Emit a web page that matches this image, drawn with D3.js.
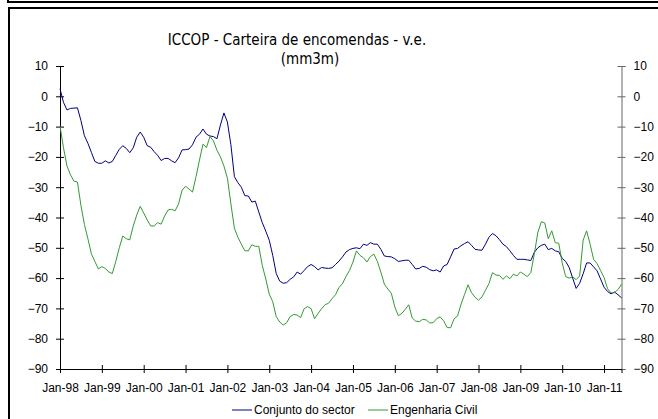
<!DOCTYPE html>
<html>
<head>
<meta charset="utf-8">
<script src="https://cdn.jsdelivr.net/npm/d3@7"></script>
<style>
  html, body { margin: 0; padding: 0; background: #fff; }
  #chart { width: 658px; height: 419px; }
</style>
</head>
<body>
<div id="chart"></div>
<script>
// monthly values, Jan-98 .. Jun-11
const conjunto = [
    2.5, -2, -4.5, -4, -3.9, -3.8, -8, -13, -15.5, -18.5,
    -21.5, -22.1, -22.1, -21.3, -22, -21.5, -19.5, -17.5, -16.3, -17.2,
    -18.6, -17, -13.5, -11.8, -13.5, -16.3, -16.8, -18.3, -19.5, -21.2,
    -20.5, -20.5, -21.3, -21.9, -20.3, -17.7, -17.6, -17.4, -16, -13.5,
    -12.5, -10.8, -12.5, -13.1, -13.3, -14, -9.5, -5.5, -8.5, -16,
    -26.5, -28.5, -30, -32.8, -32.9, -34.9, -34.6, -38.2, -41.7, -44.5,
    -47.5, -52.5, -58.5, -61, -61.7, -61.5, -60.4, -59.6, -58, -58.7,
    -57.5, -56.2, -55.5, -56.2, -57.3, -56.5, -56.7, -56.8, -56.6, -55.5,
    -54.4, -53, -51.4, -50.6, -50.2, -50, -50.3, -48.8, -49.2, -48.3,
    -48.8, -48.8, -50.5, -52.7, -52.9, -53, -53.6, -54.5, -54.3, -54.1,
    -54.1, -55.5, -57, -56.8, -56.1, -56.4, -57.2, -57.6, -57.3, -58,
    -56, -55.5, -53, -50.4, -50.2, -49.3, -48.6, -48, -49.2, -50.5,
    -50.7, -50.8, -48.8, -46.5, -45.3, -46, -47.3, -48.8, -49.6, -51,
    -52.5, -53.8, -53.8, -53.8, -54, -54.2, -51.5, -50, -49.2, -48.8,
    -50.6, -50.2, -51, -51.3, -53.5, -54.5, -56.5, -60, -63.4, -61.7,
    -58.6, -55, -55, -56.3, -57.6, -60.3, -63, -64.4, -65.2, -64.6,
    -65.5, -66.5
];

const engenharia = [
    -9.8, -17, -23, -25.9, -28, -28.3, -36, -42.3, -47, -52,
    -54.5, -57, -56.2, -56.8, -58, -58.5, -54.5, -50, -46.1, -47,
    -47.4, -42.8, -39.2, -36.3, -38.5, -40.8, -42.8, -42.8, -41.7, -42.2,
    -39.5, -37.5, -37.3, -37.8, -35.5, -31, -29.7, -30.6, -31.6, -26.5,
    -21, -15.8, -16.9, -13.3, -14.7, -17.8, -20, -23, -27, -35.5,
    -43.5, -46.5, -48.8, -51, -51, -49, -49.5, -49.5, -55.8, -60.3,
    -65.3, -67.8, -72.7, -74.5, -75.5, -74.7, -72.7, -72, -72.2, -73,
    -70.1, -69.4, -70.1, -73.4, -71.7, -70.1, -68.8, -68.3, -66.8, -65.5,
    -63.1, -61.8, -59.5, -57.5, -54.7, -51, -52.5, -53.3, -54.7, -52.9,
    -52.1, -54.5, -58, -62, -63.6, -65, -69.5, -72.4, -71.7, -70.3,
    -68.8, -73.2, -74.2, -74.4, -73.6, -73.8, -74.8, -74.7, -73.4, -72.8,
    -74.1, -76.3, -76.4, -73.4, -72.5, -68.6, -65.4, -62.2, -64.8, -66.3,
    -67.3, -66.2, -64, -61.8, -58.2, -59, -59.1, -60.4, -59.3, -60.2,
    -58.7, -59.3, -58, -58.7, -59.5, -58.2, -52.1, -45, -41.4, -41.8,
    -47, -44.4, -48.3, -48.5, -55, -59.5, -60, -59.6, -60.5, -59.3,
    -47.5, -44.4, -48.8, -53.8, -55.2, -57.5, -59.8, -63.5, -64.9, -64.8,
    -63.8, -62
];

const xTickLabels = ["Jan-98", "Jan-99", "Jan-00", "Jan-01", "Jan-02", "Jan-03", "Jan-04",
    "Jan-05", "Jan-06", "Jan-07", "Jan-08", "Jan-09", "Jan-10", "Jan-11"];
const yTicks = [10, 0, -10, -20, -30, -40, -50, -60, -70, -80, -90];
const seriesNames = ["Conjunto do sector", "Engenharia Civil"];
const seriesColors = ["#000080", "#339933"];

const width = 658, height = 419;
const svg = d3.select("#chart").append("svg")
    .attr("width", width)
    .attr("height", height)
    .style("display", "block");

// outer frames
svg.append("rect").attr("x", 8).attr("y", -10).attr("width", 660).attr("height", 12)
    .attr("fill", "none").attr("stroke", "#000").attr("stroke-width", 2);
svg.append("rect").attr("x", 9).attr("y", 8).attr("width", 660).attr("height", 430)
    .attr("fill", "none").attr("stroke", "#000").attr("stroke-width", 2);

const x = d3.scaleLinear().domain([0, conjunto.length - 1]).range([60, 621.5]);
const y = d3.scaleLinear().domain([-90, 10]).range([369, 66]);

// title
const title = svg.append("g")
    .attr("font-family", "'DejaVu Sans Condensed', 'DejaVu Sans', sans-serif")
    .attr("font-size", "15px")
    .attr("fill", "#000")
    .attr("text-anchor", "middle");
title.append("text").attr("x", 297).attr("y", 45).text("ICCOP - Carteira de encomendas - v.e.");
title.append("text").attr("x", 310).attr("y", 64).text("(mm3m)");

const axisFont = "'Liberation Sans', Arial, sans-serif";

// left axis
const yLeft = svg.append("g")
    .attr("transform", "translate(60,0)")
    .call(d3.axisLeft(y).tickValues(yTicks).tickSize(4).tickPadding(8).tickFormat(d3.format("d")));
yLeft.select(".domain").attr("stroke", "#000");
yLeft.selectAll(".tick line").attr("x1", 4).attr("x2", -4).attr("stroke", "#000");
yLeft.selectAll("text").attr("font-family", axisFont).attr("font-size", "12px").attr("fill", "#000");

// right axis
const yRight = svg.append("g")
    .attr("transform", "translate(621.5,0)")
    .call(d3.axisRight(y).tickValues(yTicks).tickSize(4).tickPadding(8).tickFormat(d3.format("d")));
yRight.select(".domain").attr("stroke", "#666");
yRight.selectAll(".tick line").attr("x1", -4).attr("x2", 4).attr("stroke", "#666");
yRight.selectAll("text").attr("font-family", axisFont).attr("font-size", "12px").attr("fill", "#000");

// x axis
const xAxis = svg.append("g")
    .attr("transform", `translate(0,${y(-90)})`)
    .call(d3.axisBottom(x)
        .tickValues(xTickLabels.map((d, i) => i * 12))
        .tickSize(4).tickPadding(10)
        .tickFormat((d, i) => xTickLabels[i]));
xAxis.select(".domain").attr("stroke", "#000");
xAxis.selectAll(".tick line").attr("y1", -4).attr("y2", 4).attr("stroke", "#000");
xAxis.selectAll("text").attr("font-family", axisFont).attr("font-size", "12px").attr("fill", "#000");

// lines
const line = d3.line().x((d, i) => x(i)).y(d => y(d));
[conjunto, engenharia].forEach((s, k) => {
    svg.append("path")
        .datum(s)
        .attr("fill", "none")
        .attr("stroke", seriesColors[k])
        .attr("stroke-width", 1)
        .attr("d", line);
});

// legend
const legendX = [232, 368];
const legend = svg.append("g")
    .selectAll("g")
    .data(seriesNames)
    .join("g")
    .attr("transform", (d, i) => `translate(${legendX[i]},410)`);
legend.append("line")
    .attr("x1", 0).attr("x2", 20)
    .attr("stroke", (d, i) => seriesColors[i])
    .attr("stroke-width", 1);
legend.append("text")
    .attr("x", 22).attr("dy", "0.35em")
    .attr("font-family", axisFont).attr("font-size", "12px")
    .text(d => d);
</script>
</body>
</html>
